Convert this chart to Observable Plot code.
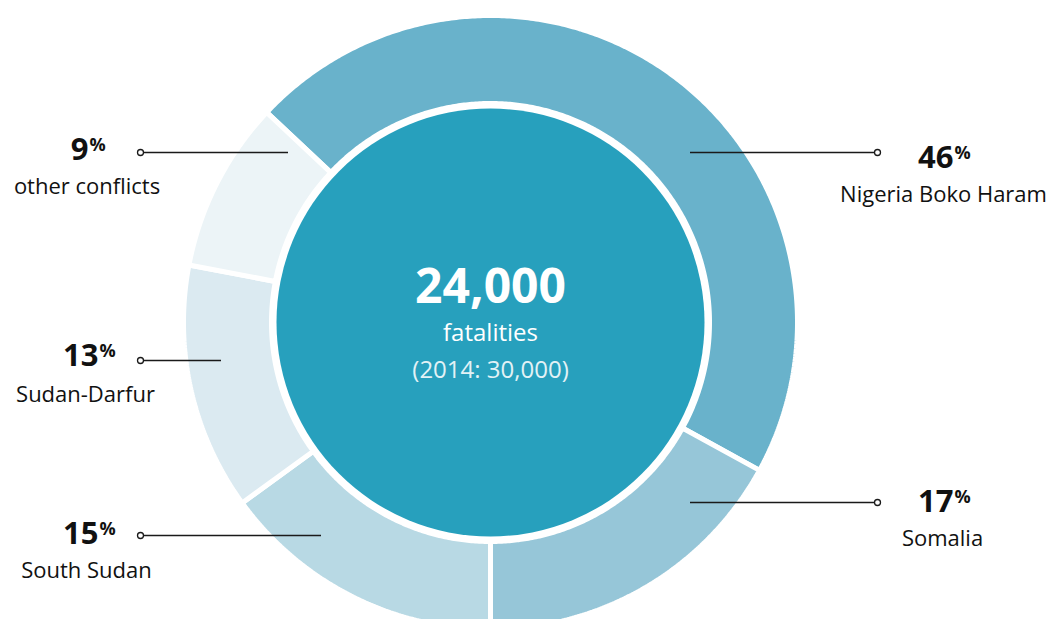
<!DOCTYPE html>
<html>
<head>
<meta charset="utf-8">
<script src="https://cdn.jsdelivr.net/npm/d3@7"></script>
<script src="https://cdn.jsdelivr.net/npm/@observablehq/plot@0.6"></script>
<style>
  html, body { margin: 0; padding: 0; background: #fff; }
  #chart svg { display: block; }
</style>
</head>
<body>
<div id="chart"></div>
<script>
// ---- data ----
const categories = ["Nigeria Boko Haram", "Somalia", "South Sudan", "Sudan-Darfur", "other conflicts"];
const shares = [46, 17, 15, 13, 9];
const colors = ["#69b2cb", "#96c6d8", "#b8d9e4", "#dbeaf1", "#ecf4f7"];
const centerValue = "24,000";
const centerLabel = "fatalities";
const centerNote = "(2014: 30,000)";

// ---- layout (pixel units, chart centre at 0,0) ----
const startAngle = -46.8;          // degrees, clockwise from top
const R_OUT = 307, R_IN = 219, R_CORE = 214;
const labelLayout = [
  {c: "Nigeria Boko Haram", px: 463, ny: -155, nx: 453, nby: -121, ly: -170, dot: 387, end: 200},
  {c: "Somalia",            px: 463, ny: 189,  nx: 452, nby: 223,  ly: 180,  dot: 387, end: 200},
  {c: "South Sudan",        px: -392, ny: 221, nx: -404, nby: 255, ly: 213,  dot: -350, end: -169},
  {c: "Sudan-Darfur",       px: -392, ny: 43,  nx: -405, nby: 79,  ly: 38,   dot: -350, end: -269},
  {c: "other conflicts",    px: -402, ny: -163, nx: -403.5, nby: -129, ly: -170, dot: -350, end: -202}
];

// build slice polygons from the shares
const total = d3.sum(shares);
const slicePts = [];
let acc = startAngle;
categories.forEach((c, i) => {
  const a0 = acc, a1 = acc + shares[i] / total * 360;
  acc = a1;
  const steps = Math.max(8, Math.ceil((a1 - a0) / 0.5));
  const pts = [];
  for (let k = 0; k <= steps; k++) {
    const a = (a0 + (a1 - a0) * k / steps) * Math.PI / 180;
    pts.push({c, x: R_OUT * Math.sin(a), y: -R_OUT * Math.cos(a)});
  }
  for (let k = steps; k >= 0; k--) {
    const a = (a0 + (a1 - a0) * k / steps) * Math.PI / 180;
    pts.push({c, x: R_IN * Math.sin(a), y: -R_IN * Math.cos(a)});
  }
  slicePts.push(...pts);
});

const labels = labelLayout.map(l => ({...l, share: shares[categories.indexOf(l.c)]}));
const FONT = "'Open Sans', 'Noto Sans', sans-serif";

const chart = Plot.plot({
  width: 1051,
  height: 619,
  margin: 0,
  x: {domain: [-490, 561], range: [0, 1051], axis: null},
  y: {domain: [-322, 297], range: [0, 619], axis: null},
  color: {domain: categories, range: colors},
  style: {background: "#fff", fontFamily: FONT},
  marks: [
    Plot.line(slicePts, {x: "x", y: "y", z: "c", fill: "c", stroke: "#fff", strokeWidth: 5, curve: "linear-closed", strokeLinejoin: "miter"}),
    Plot.dot([0], {x: 0, y: 0, r: R_CORE, fill: "#27a0bd", stroke: null}),
    Plot.text([centerValue], {x: 0, y: -20, text: d => d, fill: "#fff", fontSize: 48, fontWeight: 700, lineAnchor: "bottom", textAnchor: "middle"}),
    Plot.text([centerLabel], {x: 0, y: 18, text: d => d, fill: "#fff", fontSize: 24, fontWeight: 400, lineAnchor: "bottom", textAnchor: "middle"}),
    Plot.text([centerNote], {x: 0, y: 55, text: d => d, fill: "#e2f2f6", fontSize: 24, fontWeight: 400, lineAnchor: "bottom", textAnchor: "middle"}),
    Plot.ruleY(labels, {y: "ly", x1: "dot", x2: "end", stroke: "#1a1a1a", strokeWidth: 1.4}),
    Plot.dot(labels, {x: "dot", y: "ly", r: 3, fill: "#fff", stroke: "#1a1a1a", strokeWidth: 1.3}),
    Plot.text(labels, {x: "px", y: "ny", text: d => String(d.share), fill: "#111", fontSize: 31, fontWeight: 700, lineAnchor: "bottom", textAnchor: "end"}),
    Plot.text(labels, {x: "px", y: d => d.ny - 9, text: () => "%", fill: "#111", fontSize: 18, fontWeight: 700, lineAnchor: "bottom", textAnchor: "start", dx: 1}),
    Plot.text(labels, {x: "nx", y: "nby", text: "c", fill: "#111", fontSize: 22, lineAnchor: "bottom", textAnchor: "middle"})
  ]
});
document.getElementById("chart").appendChild(chart);
</script>
</body>
</html>
